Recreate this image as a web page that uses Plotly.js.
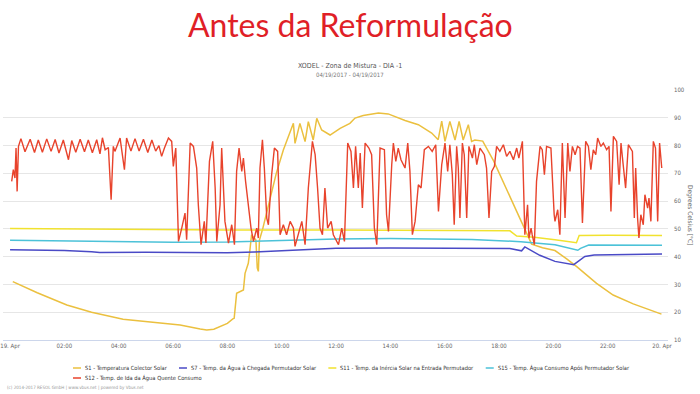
<!DOCTYPE html>
<html>
<head>
<meta charset="utf-8">
<script src="https://cdn.plot.ly/plotly-3.0.1.min.js"></script>
<style>html,body{margin:0;padding:0;background:#fff;}#chart{width:700px;height:394px;}</style>
</head>
<body>
<div id="chart"></div>
<script>
// ---- data (hours since 19 Apr 00:00, °C) ----
var seriesNames = [
  "S1 - Temperatura Colector Solar",
  "S7 - Temp. da Água à Chegada Permutador Solar",
  "S11 - Temp. da Inércia Solar na Entrada Permutador",
  "S15 - Temp. Água Consumo Após Permutador Solar",
  "S12 - Temp. de Ida da Água Quente Consumo"
];
var seriesColors = ["#ebc03f", "#4a4ac6", "#f1e22e", "#4cc2d8", "#e8432c"];

var tickHours = [0, 2, 4, 6, 8, 10, 12, 14, 16, 18, 20, 22, 24];
var tickLabels = ["19. Apr", "02:00", "04:00", "06:00", "08:00", "10:00", "12:00", "14:00", "16:00", "18:00", "20:00", "22:00", "20. Apr"];
var yTicks = [10, 20, 30, 40, 50, 60, 70, 80, 90, 100];

var s1Hours = [0.1, 1.0, 2.09, 3.0, 4.16, 5.0, 6.26, 7.0, 7.24, 7.5, 7.73, 8.0, 8.2, 8.25, 8.34, 8.59, 8.65, 8.77, 8.83, 8.89, 9.05, 9.1, 9.14, 9.18, 9.3, 9.45, 9.8, 10.06, 10.43, 10.49, 10.67, 10.86, 10.98, 11.16, 11.29, 11.47, 11.78, 12.15, 12.51, 12.7, 13.0, 13.56, 13.92, 14.54, 15.03, 15.52, 15.76, 15.89, 16.01, 16.19, 16.38, 16.53, 16.68, 16.87, 16.99, 17.11, 17.4, 17.8, 18.4, 19.02, 19.2, 19.6, 20.06, 20.49, 20.86, 21.59, 22.2, 22.94, 23.98];
var s1Temps = [31.0, 27.0, 22.6, 20.0, 17.5, 16.6, 15.4, 14.0, 13.6, 13.9, 14.8, 16.0, 17.6, 17.8, 26.8, 28.0, 34.0, 37.6, 42.4, 47.9, 46.0, 36.0, 34.7, 46.0, 50.0, 56.0, 70.0, 78.4, 88.0, 80.8, 88.0, 81.4, 88.6, 82.0, 89.8, 85.6, 83.8, 86.2, 88.0, 89.9, 90.8, 91.7, 91.4, 89.0, 87.5, 84.5, 82.1, 88.8, 81.5, 88.7, 82.0, 88.7, 82.0, 87.5, 81.5, 82.0, 81.6, 74.5, 61.5, 48.4, 44.5, 43.2, 42.2, 39.2, 36.4, 30.4, 26.2, 23.0, 19.3];

var s7Hours = [0, 1, 2, 3, 3.3, 5, 6, 7, 8, 9, 10, 11, 12, 14, 16, 18.4, 18.83, 18.95, 19.5, 20.06, 20.75, 21.16, 21.5, 22, 24];
var s7Temps = [42.5, 42.4, 42.2, 41.8, 41.5, 41.6, 41.5, 41.3, 41.4, 41.7, 42.2, 42.6, 43.0, 43.1, 43.0, 42.9, 42.1, 43.5, 40.5, 38.3, 37.1, 40.1, 40.6, 40.7, 41.0];

var s11Hours = [0, 4, 8, 12, 16, 18.4, 18.65, 19.3, 20.06, 20.85, 20.95, 22, 24];
var s11Temps = [50.1, 49.8, 49.6, 49.6, 49.4, 49.3, 47.4, 47.0, 46.1, 45.0, 47.6, 47.7, 47.6];

var s15Hours = [0, 2, 4, 6, 8, 10, 12, 14, 16, 17, 18.8, 19.5, 20.06, 20.9, 21.0, 21.3, 22, 24];
var s15Temps = [45.9, 45.7, 45.3, 45.2, 45.3, 45.8, 46.4, 46.5, 46.4, 46.2, 45.4, 44.9, 44.3, 42.3, 43.0, 44.2, 44.2, 44.1];

var s12Hours = [0.06, 0.12, 0.18, 0.22, 0.26, 0.31, 0.40, 0.55, 0.74, 0.90, 1.04, 1.19, 1.35, 1.51, 1.66, 1.80, 1.96, 2.15, 2.27, 2.42, 2.58, 2.74, 2.88, 3.03, 3.19, 3.31, 3.40, 3.50, 3.62, 3.72, 3.80,
  3.86, 4.05, 4.21, 4.29, 4.45, 4.60, 4.75, 4.91, 5.07, 5.22, 5.36, 5.48, 5.58, 5.68, 5.83, 5.95, 6.01, 6.10, 6.20, 6.32, 6.44, 6.50, 6.63, 6.75, 6.87, 6.93, 7.03, 7.15, 7.21, 7.34, 7.46, 7.55, 7.61, 7.73, 7.79, 7.91,
  8.04, 8.16, 8.26, 8.34, 8.43, 8.53, 8.59, 8.67, 8.77, 8.87, 8.96, 9.08, 9.14, 9.20, 9.29, 9.36, 9.45, 9.51, 9.63, 9.73, 9.85, 9.94, 10.06, 10.18, 10.31, 10.43, 10.49, 10.61, 10.74, 10.86, 10.98, 11.13, 11.23, 11.32, 11.41, 11.50, 11.59, 11.69, 11.82, 11.90, 12.02,
  12.09, 12.21, 12.31, 12.43, 12.55, 12.64, 12.72, 12.82, 12.89, 12.97, 13.07, 13.21, 13.31, 13.41, 13.50, 13.62, 13.78, 13.86, 13.93, 14.05, 14.11, 14.20, 14.29, 14.39, 14.54, 14.64, 14.72, 14.81, 14.91, 15.03, 15.13, 15.25, 15.40, 15.54, 15.67, 15.77, 15.89, 16.01,
  16.11, 16.19, 16.28, 16.35, 16.44, 16.50, 16.56, 16.65, 16.72, 16.81, 16.89, 17.02, 17.09, 17.18, 17.30, 17.46, 17.54, 17.63, 17.73, 17.83, 17.91, 18.03, 18.16, 18.28, 18.40, 18.53, 18.65, 18.73, 18.86, 18.95, 19.05, 19.10, 19.18, 19.22, 19.30, 19.38, 19.51, 19.59, 19.67, 19.75, 19.91, 20.03,
  20.06, 20.16, 20.24, 20.33, 20.43, 20.53, 20.61, 20.70, 20.80, 20.89, 20.98, 21.07, 21.19, 21.29, 21.38, 21.47, 21.56, 21.63, 21.75, 21.84, 21.96, 22.05, 22.12, 22.21, 22.33, 22.42, 22.49, 22.57, 22.66, 22.76, 22.91, 22.98, 23.03, 23.10, 23.15, 23.22, 23.31, 23.37, 23.47, 23.52, 23.59, 23.68, 23.76, 23.84, 23.91, 23.99];
var s12Temps = [67.1, 71.3, 68.3, 79.1, 63.5, 79.7, 82.5, 77.8, 82.3, 77.5, 82.0, 77.6, 82.4, 77.9, 82.2, 77.3, 82.0, 74.9, 81.8, 77.6, 82.3, 77.8, 82.0, 77.4, 82.1, 77.0, 82.8, 78.5, 79.3, 60.5, 79.7,
  77.9, 82.7, 71.3, 82.7, 78.0, 82.5, 78.0, 82.3, 77.5, 82.0, 78.0, 80.0, 76.1, 79.0, 82.7, 81.5, 72.5, 79.1, 45.5, 50.3, 55.7, 46.1, 80.9, 79.7, 71.9, 58.7, 44.3, 52.7, 44.9, 74.3, 81.5, 64.7, 45.5, 58.7, 79.1, 52.7,
  44.9, 51.5, 44.3, 70.7, 79.1, 70.7, 75.5, 67.1, 58.7, 50.3, 45.5, 50.3, 46.7, 71.9, 82.1, 71.9, 53.9, 51.5, 69.5, 79.1, 77.9, 47.9, 51.5, 47.9, 52.7, 50.3, 43.7, 47.9, 52.7, 44.3, 64.7, 81.5, 76.7, 64.7, 50.3, 47.9, 64.7, 50.3, 52.7, 47.9, 45.5,
  44.3, 50.3, 45.5, 80.9, 77.9, 64.7, 79.7, 64.7, 77.3, 57.5, 80.9, 79.1, 76.7, 50.3, 44.3, 79.1, 78.5, 55.1, 49.1, 73.1, 80.9, 74.3, 79.1, 74.9, 71.9, 80.9, 70.7, 47.9, 52.7, 65.9, 64.7, 78.5, 79.7, 77.9, 80.3, 56.3, 73.1, 80.9,
  70.7, 80.3, 69.5, 51.5, 79.7, 71.9, 53.9, 80.9, 76.7, 53.9, 79.7, 75.5, 80.3, 73.1, 79.1, 76.7, 71.9, 53.9, 70.7, 72.5, 79.7, 77.9, 80.3, 76.1, 77.9, 74.9, 79.1, 75.5, 81.5, 47.9, 58.7, 46.7, 50.3, 47.9, 44.3, 67.1, 79.7, 78.5, 69.5, 79.7, 79.1, 55.1,
  52.7, 56.9, 47.9, 80.9, 53.9, 80.9, 70.7, 79.7, 76.7, 79.7, 79.1, 52.1, 81.5, 79.7, 71.3, 78.5, 76.7, 82.7, 79.7, 80.9, 78.5, 79.7, 56.3, 83.3, 81.5, 65.9, 80.9, 73.1, 64.7, 80.3, 77.9, 53.9, 71.9, 53.9, 46.7, 55.1, 51.5, 62.3, 57.5, 61.1, 52.7, 81.5, 79.1, 52.7, 80.9, 71.9];

// ---- figure ----
var xs = [s1Hours, s7Hours, s11Hours, s15Hours, s12Hours];
var ys = [s1Temps, s7Temps, s11Temps, s15Temps, s12Temps];
var widths = [1.5, 1.5, 1.5, 1.5, 1.4];
var traces = [];
for (var i = 0; i < xs.length; i++) {
  traces.push({
    type: 'scatter', mode: 'lines', name: seriesNames[i],
    x: xs[i], y: ys[i],
    line: {color: seriesColors[i], width: widths[i]},
    showlegend: false, hoverinfo: 'skip'
  });
}

var smallFont = "'Liberation Sans Narrow', 'DejaVu Sans Condensed', 'Roboto', sans-serif";

// legend (Highcharts-style): measure text to fit 4 items in the first row, 5th wraps
var cvs = document.createElement('canvas').getContext('2d');
cvs.font = "10px " + smallFont;
var w10 = seriesNames.map(function (s) { return cvs.measureText(s).width; });
var row1Text = w10[0] + w10[1] + w10[2] + w10[3];
var dashW = 8, dashGap = 3, itemGap = 13, rowStart = 73, rowEnd = 628;
var legendSize = Math.min(7, 10 * (rowEnd - rowStart - 4 * (dashW + dashGap) - 3 * itemGap) / row1Text);
var legendPos = [];
var cx = rowStart;
for (var k = 0; k < 4; k++) {
  legendPos.push({x: cx, y: 368});
  cx += dashW + dashGap + w10[k] * legendSize / 10 + itemGap;
}
legendPos.push({x: rowStart, y: 378});

function px(x) { return (x - 3) / 665; }
function py(y) { return (340 - y) / 250; }

var annotations = [];
var shapes = [];
for (var j = 0; j < seriesNames.length; j++) {
  var p = legendPos[j];
  shapes.push({type: 'line', xref: 'paper', yref: 'paper',
    x0: px(p.x), x1: px(p.x + dashW), y0: py(p.y), y1: py(p.y),
    line: {color: seriesColors[j], width: 1.5}});
  annotations.push({xref: 'paper', yref: 'paper', x: px(p.x + dashW + dashGap - 1), y: py(p.y),
    xanchor: 'left', yanchor: 'middle', showarrow: false, text: seriesNames[j],
    font: {family: smallFont, size: legendSize, color: '#333333'}});
}
annotations.push(
  {xref: 'paper', yref: 'paper', x: px(350), y: py(24), xanchor: 'center', yanchor: 'middle', showarrow: false,
   text: 'Antes da Reformulação', font: {family: 'Lato, "Open Sans", sans-serif', size: 32, color: '#e01f27'}},
  {xref: 'paper', yref: 'paper', x: px(350), y: py(66), xanchor: 'center', yanchor: 'middle', showarrow: false,
   text: 'XODEL - Zona de Mistura - DIA -1', font: {family: smallFont, size: 7, color: '#555555'}},
  {xref: 'paper', yref: 'paper', x: px(350), y: py(75), xanchor: 'center', yanchor: 'middle', showarrow: false,
   text: '04/19/2017 - 04/19/2017', font: {family: smallFont, size: 6, color: '#777777'}},
  {xref: 'paper', yref: 'paper', x: px(690), y: 0.5, xanchor: 'center', yanchor: 'middle', showarrow: false,
   textangle: 90, text: 'Degrees Celsius [°C]', font: {family: smallFont, size: 6.5, color: '#666666'}},
  {xref: 'paper', yref: 'paper', x: px(5), y: py(388), xanchor: 'left', yanchor: 'middle', showarrow: false,
   text: '(c) 2014-2017 RESOL GmbH | www.vbus.net | powered by Vbus.net', font: {family: smallFont, size: 4.5, color: '#999999'}}
);

var layout = {
  width: 700, height: 394,
  margin: {l: 3, r: 32, t: 90, b: 54, pad: 0},
  paper_bgcolor: '#ffffff', plot_bgcolor: '#ffffff',
  showlegend: false,
  xaxis: {
    type: 'linear', range: [-0.26, 24.22],
    tickmode: 'array', tickvals: tickHours, ticktext: tickLabels,
    showgrid: false, zeroline: false,
    showline: true, linecolor: '#ccd6eb', linewidth: 1,
    ticks: '', tickfont: {family: smallFont, size: 6, color: '#666666'}
  },
  yaxis: {
    side: 'right', range: [10, 100],
    tickmode: 'array', tickvals: yTicks,
    showgrid: true, gridcolor: '#e6e6e6', gridwidth: 1,
    zeroline: false, showline: false, ticks: '',
    ticklabelstandoff: 5,
    tickfont: {family: smallFont, size: 6, color: '#666666'}
  },
  annotations: annotations,
  shapes: shapes
};

Plotly.newPlot('chart', traces, layout, {displayModeBar: false, staticPlot: true});
</script>
</body>
</html>
